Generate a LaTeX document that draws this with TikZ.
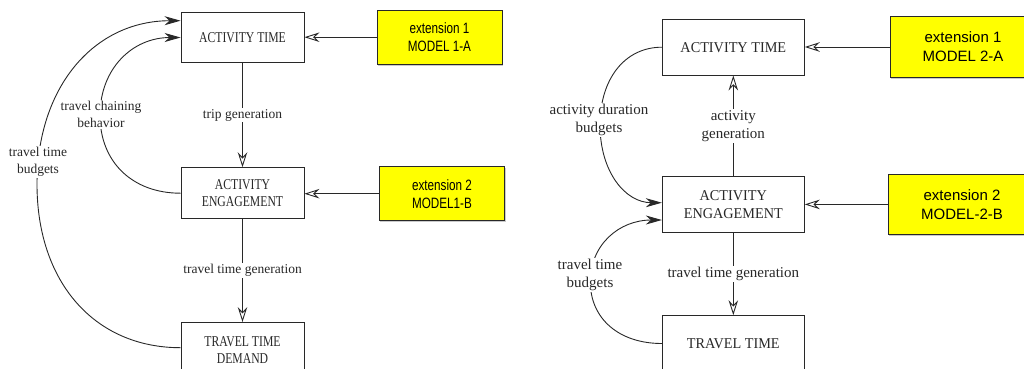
\documentclass[tikz,border=0pt]{standalone}
\usepackage{fontspec}
\setmainfont{Liberation Serif}
\newfontfamily\serifN[FakeStretch=0.78]{Liberation Serif}
\newfontfamily\serifW[FakeStretch=0.95]{Liberation Serif}
\newfontfamily\sansN[FakeStretch=0.78]{Liberation Sans}
\newfontfamily\sansW{Liberation Sans}
\usetikzlibrary{arrows.meta,shadows}
\definecolor{extyellow}{RGB}{255,255,0}
\definecolor{ink}{RGB}{40,40,40}
\tikzset{
  stage/.style={draw=ink, fill=white, inner sep=0pt, align=center, text=ink},
  stageL/.style={stage, minimum width=123pt, minimum height=50pt,
    font=\serifN\fontsize{15}{16.7}\selectfont},
  stageR/.style={stage, minimum width=142pt, minimum height=55.7pt,
    font=\serifW\fontsize{15}{17.3}\selectfont},
  ext/.style={draw=ink, fill=extyellow, inner sep=0pt, align=center, text=black,
    drop shadow={shadow xshift=1pt, shadow yshift=-1.5pt, fill=black!35, opacity=0.6}},
  extL/.style={ext, minimum width=125pt, minimum height=54pt,
    font=\sansN\fontsize{15}{18}\selectfont},
  extR/.style={ext, minimum width=146pt, minimum height=60.6pt,
    font=\sansW\fontsize{15}{19}\selectfont},
  lbl/.style={fill=white, inner sep=1.5pt, align=center, text=ink},
  lblL/.style={lbl, font=\fontsize{13.5}{16.7}\selectfont},
  lblR/.style={lbl, font=\fontsize{15}{18}\selectfont},
  feed/.style={draw=ink, -{Stealth[open, length=15pt, width=9.5pt, inset=5pt]}},
  loop/.style={draw=ink, -{Stealth[length=16pt, width=9pt, inset=5pt]}},
}
\begin{document}
\begin{tikzpicture}[x=1pt, y=-1pt, line width=0.9pt]
\useasboundingbox (0,0) rectangle (1024,368);
\clip (0,0) rectangle (1024,368);

% ---------- Model 1 ----------
\node[stageL, minimum height=49.6pt] (at1) at (242.5,37.5) {ACTIVITY TIME};
\node[stageL, minimum height=51pt] (ae1) at (242.5,193.2) {ACTIVITY\\ENGAGEMENT};
\node[stageL, minimum height=55pt] (ttd1) at (242.5,350) {TRAVEL TIME\\DEMAND};
\node[extL] (x1a) at (439.5,37.2) {extension 1\\MODEL 1-A};
\node[extL, minimum width=125.4pt] (x1b) at (442,193.7) {extension 2\\MODEL1-B};

\draw[feed] (x1a.west) -- (x1a.west -| at1.east);
\draw[feed] (x1b.west) -- (x1b.west -| ae1.east);
\draw[feed] (at1.south) -- node[lblL] {trip generation} (ae1.north);
\draw[feed] (ae1.south) -- node[lblL] {travel time generation} (ttd1.north);

\coordinate (c1) at (100,115.35);
\draw[loop] (ae1.west) .. controls (132.4,193.2) and (100,162) .. (c1)
  .. controls (100,68.6) and (132.4,37.5) .. (at1.west);
\node[lblL] (l1) at (101,114.3) {travel chaining\\behavior};

\coordinate (c2) at (37,184.2);
\draw[loop] ([yshift=2.3pt]ttd1.west) .. controls (94.6,347.7) and (37,282.3) .. (c2)
  .. controls (37,86.1) and (94.6,20.7) .. ([yshift=16.8pt]at1.west);
\node[lblL] (l2) at (38,162) {travel time\\budgets};

% ---------- Model 2 ----------
\node[stageR] (at2) at (733.3,47.2) {ACTIVITY TIME};
\node[stageR, minimum height=55.6pt] (ae2) at (733.3,204.5) {ACTIVITY\\ENGAGEMENT};
\node[stageR] (tt2) at (733.3,343.5) {TRAVEL TIME};
\node[extR] (x2a) at (963,47) {extension 1\\MODEL 2-A};
\node[extR, minimum width=147.4pt, minimum height=60.7pt] (x2b) at (962,204.4) {extension 2\\MODEL-2-B};

\draw[feed] (x2a.west) -- (x2a.west -| at2.east);
\draw[feed] (x2b.west) -- (x2b.west -| ae2.east);
\draw[feed] (ae2.north) -- node[lblR] {activity\\generation} (at2.south);
\draw[feed] (ae2.south) -- node[lblR] {travel time generation} (tt2.north);

\coordinate (c3) at (600,125);
\draw[loop] (at2.west) .. controls (625.1,47.2) and (600,78.4) .. (c3)
  .. controls (600,171.6) and (625.1,202.7) .. ([yshift=1.8pt]ae2.west);
\node[lblR] (l3) at (599,120) {activity duration\\budgets};

\coordinate (c4) at (590.3,281.75);
\draw[loop] (tt2.west) .. controls (619.1,343.5) and (590.3,318.8) .. (c4)
  .. controls (590.3,244.7) and (619.1,220) .. ([yshift=-15.5pt]ae2.west);
\node[lblR] (l4) at (590,275) {travel time\\budgets};
\end{tikzpicture}
\end{document}
